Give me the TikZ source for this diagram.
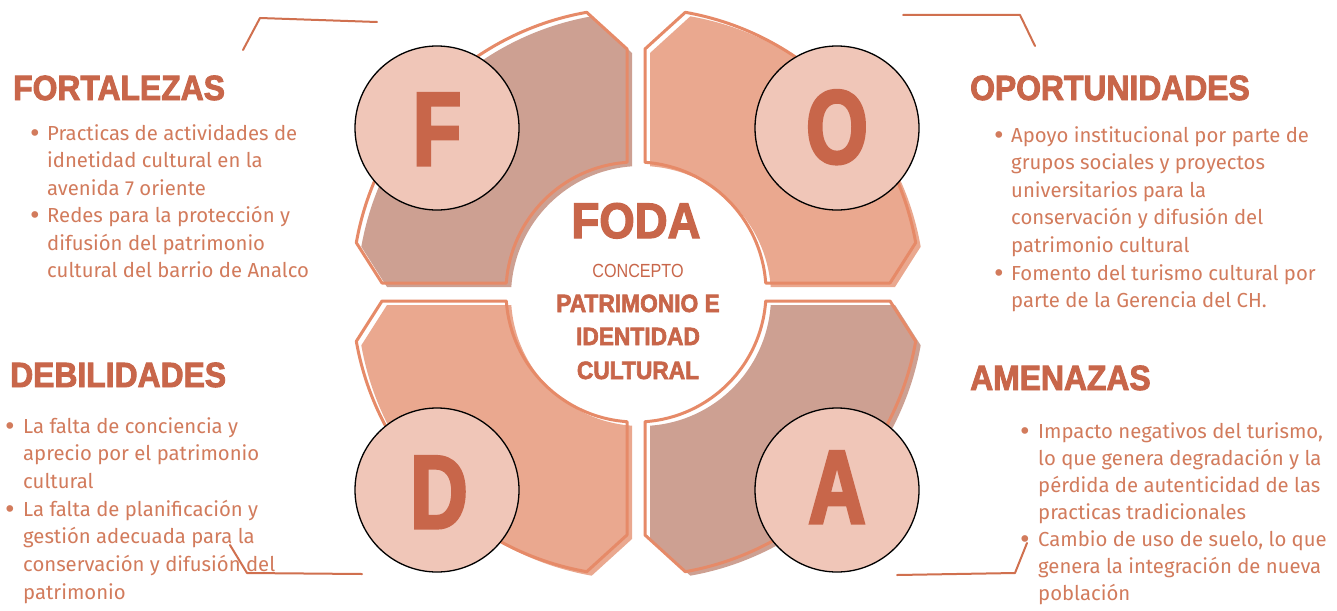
\documentclass[tikz,border=0pt]{standalone}
\usepackage{fontspec}
\setmainfont{Fira Sans}
\newfontfamily\headfont[FakeStretch=0.91,FakeBold=2.5]{Liberation Sans}
\newfontfamily\lightfont[FakeStretch=0.85]{Liberation Sans}
\newfontfamily\bigfont[FakeStretch=0.76,FakeBold=3]{Liberation Sans}
\newfontfamily\bulfont{DejaVu Sans}
\definecolor{pieceA}{HTML}{CDA092}
\definecolor{pieceB}{HTML}{EAA88F}
\definecolor{outl}{HTML}{E68A68}
\definecolor{circf}{HTML}{F0C6B8}
\definecolor{letc}{HTML}{C8664A}
\definecolor{headc}{HTML}{C8664A}
\definecolor{bodyc}{HTML}{D27B5C}
\definecolor{leadc}{HTML}{D0704F}
\def\pcpath{(100:284) arc[start angle=100,end angle=170,radius=284] -- (-254,9) -- (176.03:130) arc[start angle=176.03,end angle=93.97,radius=130] -- (-9,243) -- cycle}
\newcommand\foapiece[3]{%
  \begin{scope}[shift={(641,296)},yscale=-1,xscale=#1,yscale=#2]
    \fill[#3] \pcpath;
  \end{scope}
  \begin{scope}[shift={(636,292)},yscale=-1,xscale=#1,yscale=#2]
    \draw[outl,line width=3,line join=round] \pcpath;
  \end{scope}}
\tikzset{
  body/.style={text=bodyc,font=\fontsize{20.3}{27}\selectfont,inner sep=0,anchor=base west},
  bul/.style={text=bodyc,font=\bulfont\fontsize{23}{23}\selectfont,inner sep=0,anchor=base west},
  head/.style={text=headc,font=\headfont\bfseries\fontsize{35}{35}\selectfont,inner sep=0,anchor=base west},
  letter/.style={text=letc,font=\bigfont\bfseries\fontsize{104}{104}\selectfont,inner sep=0,anchor=base},
  circ/.style={circle,minimum size=164,inner sep=0,fill=circf,draw=black,line width=1.3},
  lead/.style={leadc,line width=2,line cap=round,line join=round},
  ctr/.style={text=headc,inner sep=0,anchor=base}
}
\begin{document}
\begin{tikzpicture}[x=1pt,y=-1pt]
\useasboundingbox[fill=white] (0,0) rectangle (1337,610);
% quadrant pieces
\foapiece{1}{1}{pieceA}
\foapiece{-1}{1}{pieceB}
\foapiece{1}{-1}{pieceB}
\foapiece{-1}{-1}{pieceA}
% circles
\node[circ] (cF) at (437,128) {};
\node[circ] (cO) at (837,128) {};
\node[circ] (cD) at (437,490) {};
\node[circ] (cA) at (837,490) {};
\node[letter] (lF) at (437,165) {F};
\node[letter] (lO) at (837,163) {O};
\node[letter] (lD) at (439,528) {D};
\node[letter] (lA) at (837,523) {A};
% center text
\node[ctr,font=\headfont\bfseries\fontsize{50}{50}\selectfont] (foda) at (636,238) {FODA};
\node[ctr,font=\lightfont\fontsize{19}{19}\selectfont] (conc) at (638,277) {CONCEPTO};
\node[ctr,font=\headfont\bfseries\fontsize{25}{25}\selectfont] (c1) at (638,312) {PATRIMONIO E};
\node[ctr,font=\headfont\bfseries\fontsize{25}{25}\selectfont] (c2) at (638,345) {IDENTIDAD};
\node[ctr,font=\headfont\bfseries\fontsize{25}{25}\selectfont] (c3) at (638,379) {CULTURAL};
% headings
\node[head] (hF) at (13,100) {FORTALEZAS};
\node[head] (hO) at (970,100) {OPORTUNIDADES};
\node[head] (hD) at (10,387) {DEBILIDADES};
\node[head] (hA) at (970,390) {AMENAZAS};
% body texts
\foreach \t [count=\i] in {Practicas de actividades de, idnetidad cultural en la, avenida 7 oriente, { Redes para la protección y}, difusión del patrimonio, cultural del barrio de Analco}
  \node[body] (tF\i) at (47,{140+27.5*(\i-1)}) {\t};
\node[bul] (bF1) at (28,141) {•};
\node[bul] (bF2) at (28,223.5) {•};
\foreach \t [count=\i] in {Apoyo institucional por parte de, grupos sociales y proyectos, universitarios para la, conservación y difusión del, patrimonio cultural, Fomento del turismo cultural por, parte de la Gerencia del CH.}
  \node[body] (tO\i) at (1011,{142+27.6*(\i-1)}) {\t};
\node[bul] (bO1) at (992,143) {•};
\node[bul] (bO2) at (992,281) {•};
\foreach \t [count=\i] in {La falta de conciencia y, aprecio por el patrimonio, cultural, La falta de planificación y, gestión adecuada para la, conservación y difusión del, patrimonio}
  \node[body] (tD\i) at (23,{433+27.7*(\i-1)}) {\t};
\node[bul] (bD1) at (3,434) {•};
\node[bul] (bD2) at (3,517) {•};
\foreach \t [count=\i] in {{Impacto negativos del turismo,}, lo que genera degradación y la, pérdida de autenticidad de las, practicas tradicionales, {Cambio de uso de suelo, lo que}, genera la integración de nueva, población}
  \node[body] (tA\i) at (1038,{438+27*(\i-1)}) {\t};
\node[bul] (bA1) at (1018,439) {•};
\node[bul] (bA2) at (1018,547) {•};
% leader lines
\coordinate (l1a) at (243,50); \coordinate (l1b) at (260,18); \coordinate (l1c) at (377,22);
\coordinate (l2a) at (903,15); \coordinate (l2b) at (1020,15); \coordinate (l2c) at (1035,46);
\coordinate (l3a) at (230,545); \coordinate (l3b) at (247,573); \coordinate (l3c) at (362,574);
\coordinate (l4a) at (897,575); \coordinate (l4b) at (1015,573); \coordinate (l4c) at (1027,543);
\draw[lead] (l1a) -- (l1b) -- (l1c);
\draw[lead] (l2a) -- (l2b) -- (l2c);
\draw[lead] (l3a) -- (l3b) -- (l3c);
\draw[lead] (l4a) -- (l4b) -- (l4c);
\end{tikzpicture}
\end{document}
